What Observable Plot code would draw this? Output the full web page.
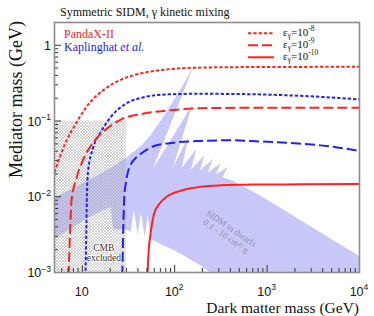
<!DOCTYPE html>
<html><head><meta charset="utf-8">
<script src="https://cdn.jsdelivr.net/npm/d3@7"></script>
<script src="https://cdn.jsdelivr.net/npm/@observablehq/plot@0.6"></script>
<style>
body{margin:0;background:#fff;}
#chart{width:374px;height:316px;}
</style></head><body><div id="chart"></div>
<script>
// ---- data ----
const xDomain = [5, 10000];
const yDomain = [0.001, 2];

// PandaX-II limits, eps = 1e-8 (dotted), 1e-9 (dashed), 1e-10 (solid)
const pandaE8x = [5, 6.5, 8.3, 11.5, 17.5, 27, 44, 78, 165, 660, 10000];
const pandaE8y = [0.021, 0.05, 0.088, 0.163, 0.264, 0.357, 0.428, 0.477, 0.506, 0.516, 0.52];
const pandaE9x = [7.1, 7.38, 7.64, 8.66, 10.1, 13.6, 18.9, 26.7, 44, 72, 138, 270, 10000];
const pandaE9y = [0.0009, 0.0036, 0.0089, 0.0178, 0.030, 0.055, 0.081, 0.106, 0.124, 0.135, 0.145, 0.149, 0.15];
const pandaE10x = [50.7, 52.3, 54.1, 56.4, 59.7, 67.1, 80, 116, 191, 314, 715, 2300, 10000];
const pandaE10y = [0.0009, 0.00195, 0.00291, 0.00415, 0.00591, 0.00785, 0.0098, 0.012, 0.01355, 0.01416, 0.01449, 0.0146, 0.0147];

// Kaplinghat et al. limits, eps = 1e-8 (dotted), 1e-9 (dashed)
const kapE8x = [10.8, 11.05, 11.18, 11.55, 13.09, 16.1, 20.7, 28.8, 43.6, 78, 164, 403, 916, 2300, 4860, 10000];
const kapE8y = [0.0009, 0.00357, 0.00885, 0.022, 0.0442, 0.0738, 0.116, 0.166, 0.203, 0.224, 0.229, 0.228, 0.224, 0.215, 0.205, 0.193];
const kapE9x = [27.1, 27.8, 28.5, 29.5, 31.0, 33.5, 37.9, 43.4, 60, 97.5, 191, 403, 851, 1795, 3790, 6230, 10000];
const kapE9y = [0.0009, 0.00415, 0.0103, 0.0148, 0.0207, 0.0268, 0.0326, 0.0373, 0.0469, 0.0518, 0.0546, 0.0557, 0.0537, 0.0514, 0.0477, 0.0442, 0.0403];

// SIDM in dwarfs region (outline)
const sidmX = [5, 12.4, 20.3, 29.5, 42.9, 55, 80, 116, 160, 57.8, 156.6, 95.1, 141.7, 119.1, 172.9, 148.9, 211, 186.3, 257.5, 227.4, 314, 277.5, 374, 330, 424, 851, 10000,
               10000, 270.6, 191, 105, 65.5, 55, 51.1, 47.4, 42.9, 39.8, 36, 33.4, 30.3, 21.4, 20.3, 11.5, 5];
const sidmY = [0.0097, 0.0173, 0.0241, 0.0326, 0.0469, 0.0655, 0.127, 0.264, 0.53, 0.0233, 0.1675, 0.024, 0.0636, 0.0241, 0.0429, 0.0226, 0.0357, 0.022, 0.0316, 0.0207, 0.028, 0.0195, 0.0248, 0.0183, 0.0163, 0.0103, 0.00163,
               0.0009, 0.0009, 0.00124, 0.00189, 0.00248, 0.0028, 0.0058, 0.00298, 0.00615, 0.00316, 0.00675, 0.00346, 0.00368, 0.0038, 0.00738, 0.0053, 0.0028];

// CMB excluded box
const cmbX = [5, 30];
const cmbY = [0.001, 0.1];

// ticks
const xMajor = [10, 100, 1000, 10000];
const xMajorBase = ["10", "10", "10", "10"];
const xMajorExp = ["", "2", "3", "4"];
const xMinor = [6, 7, 8, 9, 20, 30, 40, 50, 60, 70, 80, 90, 200, 300, 400, 500, 600, 700, 800, 900, 2000, 3000, 4000, 5000, 6000, 7000, 8000, 9000];
const yMajor = [0.001, 0.01, 0.1, 1];
const yMajorBase = ["10", "10", "10", "1"];
const yMajorExp = ["\u22123", "\u22122", "\u22121", ""];
const yMinor = [0.002,0.003,0.004,0.005,0.006,0.007,0.008,0.009,0.02,0.03,0.04,0.05,0.06,0.07,0.08,0.09,0.2,0.3,0.4,0.5,0.6,0.7,0.8,0.9];

const legendExp = ["-8", "-9", "-10"];
const legendDash = ["3.3,2", "10,4", null];

// ---- style ----
const RED = "#ff2222", BLUE = "#2020ff", BAND = "#c8c8f8";
const SERIF = "'Liberation Serif', 'Times New Roman', serif";
const SANS = "'Liberation Sans', Arial, sans-serif";
const W = 374, H = 316, mL = 54, mR = 15, mT = 22, mB = 44;
const fw = W - mL - mR, fh = H - mT - mB;

const pts = (xs, ys) => xs.map((x, i) => ({x, y: ys[i]}));
const lineOpts = (stroke, dash) => ({x: "x", y: "y", stroke, strokeWidth: 2, strokeDasharray: dash || undefined,
  strokeLinecap: "butt", strokeLinejoin: "miter", curve: "monotone-x", clip: true});

const plot = Plot.plot({
  width: W, height: H,
  marginLeft: mL, marginRight: mR, marginTop: mT, marginBottom: mB,
  x: {type: "log", domain: xDomain, axis: null},
  y: {type: "log", domain: yDomain, axis: null},
  style: {background: "white", overflow: "visible"},
  marks: [
    Plot.line(pts(sidmX, sidmY), {x: "x", y: "y", curve: "linear-closed", fill: BAND, stroke: "none", clip: true}),
    Plot.text([{x: 384, y: 0.0034}], {x: "x", y: "y", text: () => "SIDM in dwarfs\n0.1 - 10 cm\u00b2/ g", rotate: 34,
      fontFamily: SERIF, fontSize: 9, fill: "#8e8ea6", lineHeight: 1.05, clip: true}),
    Plot.rect([{x1: cmbX[0], x2: cmbX[1], y1: cmbY[0], y2: cmbY[1]}], {x1: "x1", x2: "x2", y1: "y1", y2: "y2", fill: "url(#cmbHatch)", clip: true}),
    Plot.text([{x: 17.1, y: 0.00183}], {x: "x", y: "y", text: () => "CMB\nexcluded", fontFamily: SERIF, fontSize: 9.5,
      fill: "#333", stroke: "white", strokeWidth: 2, lineHeight: 1.1}),
    Plot.line(pts(kapE8x, kapE8y), lineOpts(BLUE, "3.3,2")),
    Plot.line(pts(kapE9x, kapE9y), lineOpts(BLUE, "10,4")),
    Plot.line(pts(pandaE8x, pandaE8y), lineOpts(RED, "3.3,2")),
    Plot.line(pts(pandaE9x, pandaE9y), lineOpts(RED, "10,4")),
    Plot.line(pts(pandaE10x, pandaE10y), lineOpts(RED, null)),
    Plot.tickY(yMajor, {y: d => d, insetRight: fw - 7, stroke: "#333", strokeWidth: 1}),
    Plot.tickY(yMinor, {y: d => d, insetRight: fw - 4, stroke: "#333", strokeWidth: 1}),
    Plot.tickX(xMajor, {x: d => d, insetTop: fh - 7, stroke: "#333", strokeWidth: 1}),
    Plot.tickX(xMinor, {x: d => d, insetTop: fh - 4, stroke: "#333", strokeWidth: 1}),
    Plot.frame({stroke: "#8c8c8c", strokeWidth: 1.6})
  ]
});

const svg = d3.select(plot);
const defs = svg.insert("defs", ":first-child");
const pat = defs.append("pattern").attr("id", "cmbHatch").attr("patternUnits", "userSpaceOnUse")
  .attr("width", 3).attr("height", 3);
pat.append("path").attr("d", "M-1,-1L4,4M4,-1L-1,4").attr("stroke", "#a2a2a2").attr("stroke-width", 0.45).attr("fill", "none");

const sx = plot.scale("x"), sy = plot.scale("y");

// x tick labels
xMajor.forEach((v, i) => {
  const t = svg.append("text").attr("x", sx.apply(v)).attr("y", 295.5).attr("text-anchor", "middle")
    .style("font-family", SANS).style("font-size", "12.5px").attr("fill", "#111");
  t.append("tspan").text(xMajorBase[i]);
  if (xMajorExp[i]) t.append("tspan").attr("dy", -5.5).style("font-size", "8.5px").text(xMajorExp[i]);
});
// y tick labels
yMajor.forEach((v, i) => {
  const t = svg.append("text").attr("x", 51).attr("y", sy.apply(v) + 5).attr("text-anchor", "end")
    .style("font-family", SANS).style("font-size", "12.5px").attr("fill", "#111");
  t.append("tspan").text(yMajorBase[i]);
  if (yMajorExp[i]) t.append("tspan").attr("dy", -5.5).style("font-size", "8.5px").text(yMajorExp[i]);
});

// axis titles
svg.append("text").attr("transform", "translate(22,21) rotate(-90)").attr("text-anchor", "end")
  .style("font-family", SERIF).style("font-size", "18px").attr("fill", "#111").text("Mediator mass (GeV)");
svg.append("text").attr("x", 359).attr("y", 312.5).attr("text-anchor", "end")
  .style("font-family", SERIF).style("font-size", "15.5px").attr("fill", "#111").text("Dark matter mass (GeV)");

// title
svg.append("text").attr("x", 60).attr("y", 15.5).attr("text-anchor", "start")
  .style("font-family", SERIF).style("font-size", "12px").attr("fill", "#111").text("Symmetric SIDM, \u03b3 kinetic mixing");

// left legend
svg.append("text").attr("x", 64).attr("y", 37.5).attr("text-anchor", "start")
  .style("font-family", SERIF).style("font-size", "12px").attr("fill", RED).text("PandaX-II");
const kt = svg.append("text").attr("x", 64).attr("y", 50.5).attr("text-anchor", "start")
  .style("font-family", SERIF).style("font-size", "12px").attr("fill", BLUE);
kt.append("tspan").text("Kaplinghat ");
kt.append("tspan").style("font-style", "italic").text("et al.");

// right legend
legendExp.forEach((e, i) => {
  const y = 33.3 + i * 12;
  const ln = svg.append("line").attr("x1", 248).attr("x2", 274).attr("y1", y).attr("y2", y)
    .attr("stroke", RED).attr("stroke-width", 2);
  if (legendDash[i]) ln.attr("stroke-dasharray", legendDash[i]);
  const t = svg.append("text").attr("x", 283).attr("y", y + 2.4).attr("text-anchor", "start")
    .style("font-family", SERIF).style("font-size", "11px").attr("fill", "#111");
  t.append("tspan").text("\u03b5");
  t.append("tspan").attr("dy", 2.5).style("font-size", "7.5px").text("\u03b3");
  t.append("tspan").attr("dy", -2.5).text("=10");
  t.append("tspan").attr("dy", -4.5).style("font-size", "7.5px").text(e);
});

document.getElementById("chart").appendChild(plot);
</script>
</body></html>
